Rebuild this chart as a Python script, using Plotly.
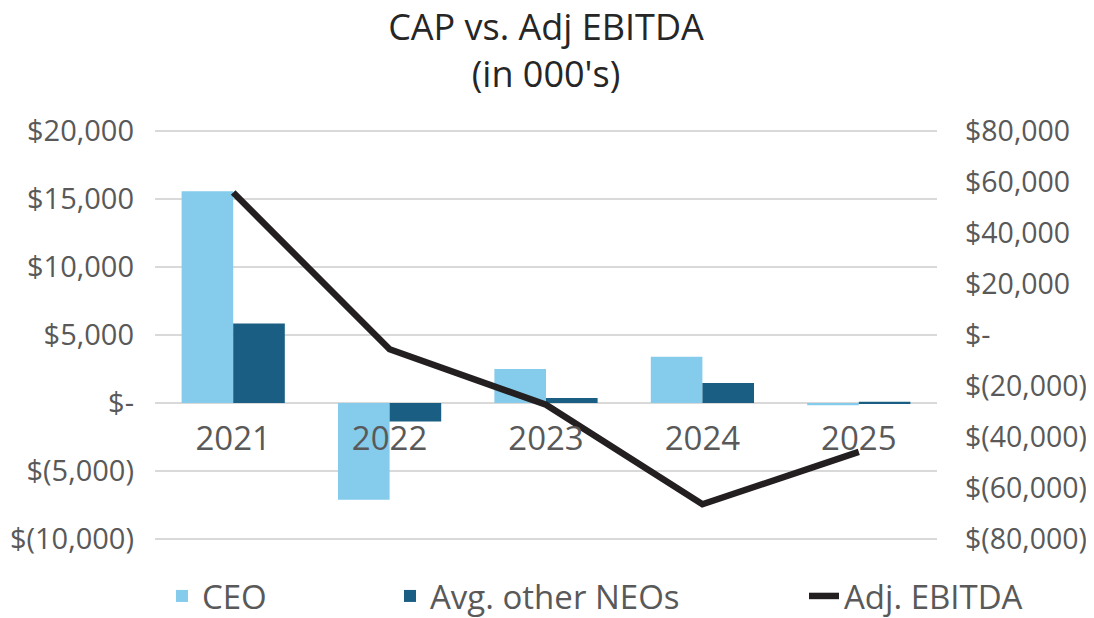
import plotly.graph_objects as go

years = ["2021", "2022", "2023", "2024", "2025"]
ceo = [15550, -7100, 2500, 3400, -150]
avg_neos = [5850, -1350, 380, 1480, 100]
adj_ebitda = [55800, -5600, -27300, -66300, -45800]

left_vals = [20000, 15000, 10000, 5000, 0, -5000, -10000]
left_text = ["$20,000", "$15,000", "$10,000", "$5,000", "$-", "$(5,000)", "$(10,000)"]
right_vals = [80000, 60000, 40000, 20000, 0, -20000, -40000, -60000, -80000]
right_text = ["$80,000", "$60,000", "$40,000", "$20,000", "$-", "$(20,000)",
              "$(40,000)", "$(60,000)", "$(80,000)"]

FONT = "Open Sans"
GRAY = "#595959"

fig = go.Figure()
fig.add_trace(go.Bar(x=years, y=ceo, name="CEO", marker_color="#85CBEC",
                     marker_line_width=0, legend="legend"))
fig.add_trace(go.Bar(x=years, y=avg_neos, name="Avg. other NEOs", marker_color="#1A5F83",
                     marker_line_width=0, legend="legend2"))
fig.add_trace(go.Scatter(x=years, y=adj_ebitda, name="Adj. EBITDA", mode="lines",
                         line=dict(color="#231F20", width=6.5), yaxis="y2",
                         legend="legend3"))

W, H = 1094, 618
PAD = 200  # small range padding so the edge gridlines are drawn
lo, hi = -10000 - PAD, 20000 + PAD
r2 = 80000 * (hi - lo) / 30000

leg_common = dict(orientation="h", yanchor="middle", yref="container", y=1 - 588 / H,
                  xanchor="left", xref="container",
                  font=dict(family=FONT, size=33, color=GRAY), bgcolor="rgba(0,0,0,0)",
                  itemwidth=30)

fig.update_layout(
    width=W, height=H,
    showlegend=True,
    margin=dict(l=147, r=165, t=120, b=84, autoexpand=False),
    paper_bgcolor="white", plot_bgcolor="white",
    font=dict(family=FONT, color=GRAY),
    title=dict(text="CAP vs. Adj EBITDA<br>(in 000's)", x=0.5, xref="paper", xanchor="center",
               yref="container", y=0.948, yanchor="top",
               font=dict(family=FONT, size=36, color="#262626")),
    barmode="group", bargap=0.34, bargroupgap=0,
    xaxis=dict(type="category", anchor="free", position=(0 - lo) / (hi - lo), showline=False,
               showgrid=False, zeroline=False, ticks="",
               tickfont=dict(family=FONT, size=33, color=GRAY), ticklabelstandoff=13),
    yaxis=dict(range=[lo, hi], tickvals=left_vals, ticktext=left_text,
               showgrid=True, gridcolor="#D9D9D9", gridwidth=2, zeroline=False,
               showline=False, tickfont=dict(family=FONT, size=29, color=GRAY),
               ticklabelstandoff=20),
    yaxis2=dict(range=[-r2, r2], tickvals=right_vals, ticktext=right_text,
                overlaying="y", side="right", showgrid=False, zeroline=False,
                showline=False, tickfont=dict(family=FONT, size=28.5, color=GRAY),
                ticklabelstandoff=27),
    legend=dict(x=154 / W, **leg_common),
    legend2=dict(x=382 / W, **leg_common),
    legend3=dict(x=796 / W, **leg_common),
)

fig.write_html("out.html")
